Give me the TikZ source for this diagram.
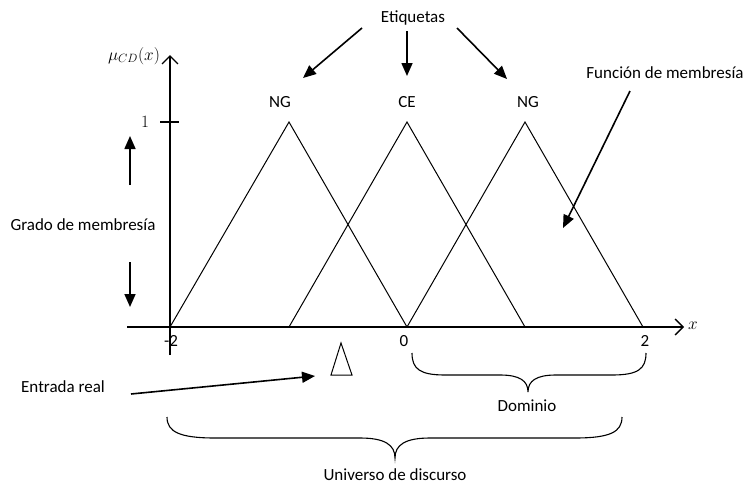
\documentclass[tikz,border=0pt]{standalone}
\usepackage{fontspec}
\setmainfont{Carlito}
\usetikzlibrary{arrows.meta}
\begin{document}
\begin{tikzpicture}[x=1pt,y=-1pt,
  lbl/.style={font=\fontsize{17}{20}\selectfont, inner sep=0pt},
  axis/.style={line width=1.4pt},
  axistip/.style={-{Straight Barb[length=8pt,width=16pt,line width=1.4pt]}},
  memb/.style={line width=1pt},
  pointer/.style={line width=1.6pt, -{Triangle[length=13pt,width=11pt]}},
  brace/.style={line width=1.1pt}]
\useasboundingbox (0,0) rectangle (745,485);

% axes
\coordinate (ybot) at (170,355);
\coordinate (ytop) at (170,55);
\coordinate (xleft) at (127,327);
\coordinate (xright) at (684,327);
\draw[axis,axistip] (ybot) -- (ytop);
\draw[axis,axistip] (xleft) -- (xright);
\coordinate (tickl) at (160,122);
\coordinate (tickr) at (179,122);
\draw[axis] (tickl) -- (tickr);

% base points and peaks of the membership functions
\coordinate (m2) at (170,327);
\coordinate (m1) at (289,327);
\coordinate (z0) at (407,327);
\coordinate (p1) at (525,327);
\coordinate (p2) at (643,327);
\coordinate (pkA) at (289,122);
\coordinate (pkB) at (407,122);
\coordinate (pkC) at (525,122);
\draw[memb] (m2) -- (pkA) -- (z0);
\draw[memb] (m1) -- (pkB) -- (p1);
\draw[memb] (z0) -- (pkC) -- (p2);

% axis labels
\node[lbl] (mu) at (134,56) {$\mu_{CD}(x)$};
\node[lbl] (one) at (145,122) {$1$};
\node[lbl] (xlab) at (693,326) {$x$};
\node[lbl] (tm2) at (171,341) {-2};
\node[lbl] (t0) at (404,341) {0};
\node[lbl] (t2) at (645,341) {2};

% linguistic labels
\node[lbl] (ngl) at (280,102) {NG};
\node[lbl] (ce) at (407,102) {CE};
\node[lbl] (ngr) at (528,102) {NG};
\node[lbl] (etq) at (413,18) {Etiquetas};
\coordinate (e1s) at (362,28);
\coordinate (e1e) at (303,78);
\coordinate (e2s) at (407,31);
\coordinate (e2e) at (407,76);
\coordinate (e3s) at (457,28);
\coordinate (e3e) at (507,79);
\draw[pointer] (e1s) -- (e1e);
\draw[pointer] (e2s) -- (e2e);
\draw[pointer] (e3s) -- (e3e);

\node[lbl] (func) at (665,73) {Función de membresía};
\coordinate (fs) at (630,91);
\coordinate (fe) at (563,228);
\draw[pointer] (fs) -- (fe);

\node[lbl] (grado) at (83,225) {Grado de membresía};
\coordinate (gus) at (130,185);
\coordinate (gue) at (130,136);
\coordinate (gds) at (130,262);
\coordinate (gde) at (130,307);
\draw[pointer] (gus) -- (gue);
\draw[pointer] (gds) -- (gde);

% crisp input marker
\coordinate (inA) at (341,343);
\draw[memb] (331,375) -- (inA) -- (352,375) -- cycle;
\node[lbl] (entrada) at (63,387) {Entrada real};
\coordinate (ens) at (131,394);
\coordinate (ene) at (315,376);
\draw[pointer] (ens) -- (ene);

% braces
\draw[brace] (412,353) .. controls (412,369) and (420,375) .. (445,375)
  -- (500,375) .. controls (520,375) and (528,381) .. (528,392)
  .. controls (528,381) and (536,375) .. (556,375)
  -- (612,375) .. controls (638,375) and (646,369) .. (646,353);
\node[lbl] (dom) at (527,406) {Dominio};

\draw[brace] (167,417) .. controls (167,432) and (180,438) .. (215,438)
  -- (360,438) .. controls (385,438) and (395,445) .. (395,458)
  .. controls (395,445) and (405,438) .. (430,438)
  -- (575,438) .. controls (610,438) and (622,432) .. (622,417);
\node[lbl] (univ) at (395,475) {Universo de discurso};
\end{tikzpicture}
\end{document}
